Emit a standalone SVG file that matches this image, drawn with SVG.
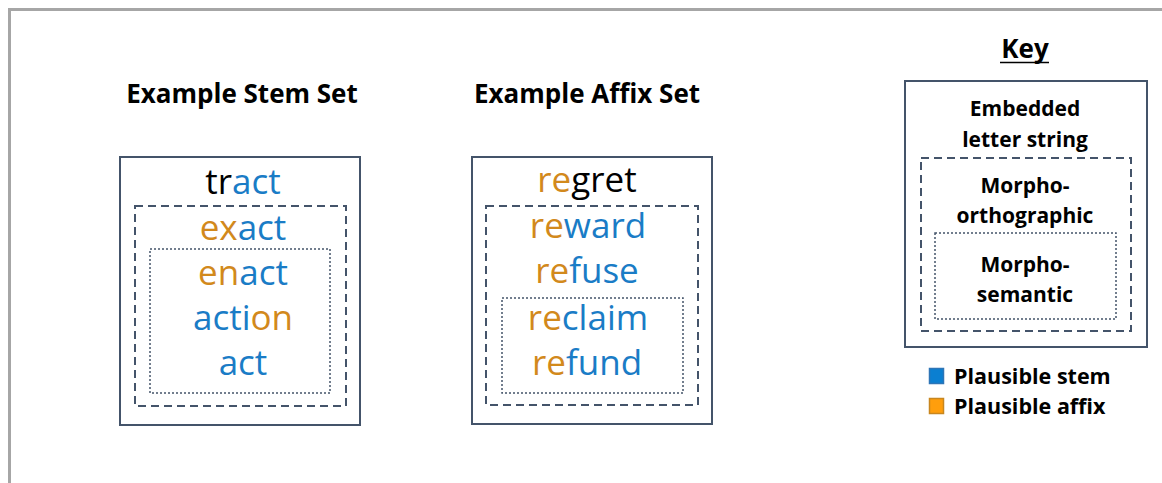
<svg xmlns="http://www.w3.org/2000/svg" width="1162" height="483" viewBox="0 0 1162 483">
<style>
.frame{fill:none;stroke:#a6a6a6;stroke-width:3}
.outer{fill:none;stroke:#44546a;stroke-width:2}
.dash{fill:none;stroke:#44546a;stroke-width:2;stroke-dasharray:8 5}
.dot{fill:none;stroke:#44546a;stroke-width:1.5;stroke-dasharray:2 2}
.title{font-family:"Open Sans","Liberation Sans",sans-serif;font-weight:bold;font-size:26px;fill:#000;text-anchor:middle}
.word{font-family:"Open Sans","Liberation Sans",sans-serif;font-size:35px;fill:#000;text-anchor:middle}
.key{font-family:"Open Sans","Liberation Sans",sans-serif;font-weight:bold;font-size:21px;fill:#000;text-anchor:middle}
.leg{font-family:"Open Sans","Liberation Sans",sans-serif;font-weight:bold;font-size:21.5px;fill:#000}
.s{fill:#1a7cc6}
.a{fill:#d2891c}
</style>
<path class="frame" d="M9.5 483 V9.5 H1162"/>
<g id="stem-set">
<text class="title" x="242" y="103">Example Stem Set</text>
<rect class="outer" x="120" y="157" width="240" height="268"/>
<rect class="dash" x="135" y="206" width="211" height="200"/>
<rect class="dot" x="150" y="249" width="180" height="144"/>
<text class="word" x="243" y="194">tr<tspan class="s">act</tspan></text>
<text class="word" x="243" y="240"><tspan class="a">ex</tspan><tspan class="s">act</tspan></text>
<text class="word" x="243" y="285"><tspan class="a">en</tspan><tspan class="s">act</tspan></text>
<text class="word" x="243" y="330"><tspan class="s">acti</tspan><tspan class="a">on</tspan></text>
<text class="word s" x="243" y="375">act</text>
</g>
<g id="affix-set">
<text class="title" x="587" y="103">Example Affix Set</text>
<rect class="outer" x="472" y="157" width="240" height="267"/>
<rect class="dash" x="486" y="206" width="212" height="199"/>
<rect class="dot" x="502" y="298" width="181" height="95"/>
<text class="word" x="587" y="192"><tspan class="a">re</tspan>gret</text>
<text class="word" x="588" y="238"><tspan class="a">re</tspan><tspan class="s">ward</tspan></text>
<text class="word" x="587" y="283"><tspan class="a">re</tspan><tspan class="s">fuse</tspan></text>
<text class="word" x="588" y="330"><tspan class="a">re</tspan><tspan class="s">claim</tspan></text>
<text class="word" x="587" y="375"><tspan class="a">re</tspan><tspan class="s">fund</tspan></text>
</g>
<g id="key">
<text class="title" x="1025" y="58">Key</text>
<line x1="1000" y1="62.5" x2="1049" y2="62.5" stroke="#000" stroke-width="1.5"/>
<rect class="outer" x="905" y="81" width="242" height="266"/>
<rect class="dash" x="921" y="158" width="210" height="173"/>
<rect class="dot" x="935" y="233" width="181" height="86"/>
<text class="key" x="1025" y="116">Embedded</text>
<text class="key" x="1025" y="147">letter string</text>
<text class="key" x="1025" y="193">Morpho-</text>
<text class="key" x="1025" y="223">orthographic</text>
<text class="key" x="1025" y="272">Morpho-</text>
<text class="key" x="1025" y="302">semantic</text>
</g>
<g id="legend">
<rect x="929.5" y="368.5" width="14" height="15" fill="#0b7fd1" stroke="#2e75b6" stroke-width="1.5"/>
<rect x="929.5" y="398.5" width="14" height="15" fill="#ff9e0c" stroke="#c8861f" stroke-width="1.5"/>
<text class="leg" x="954" y="384">Plausible stem</text>
<text class="leg" x="954" y="414">Plausible affix</text>
</g>
</svg>
